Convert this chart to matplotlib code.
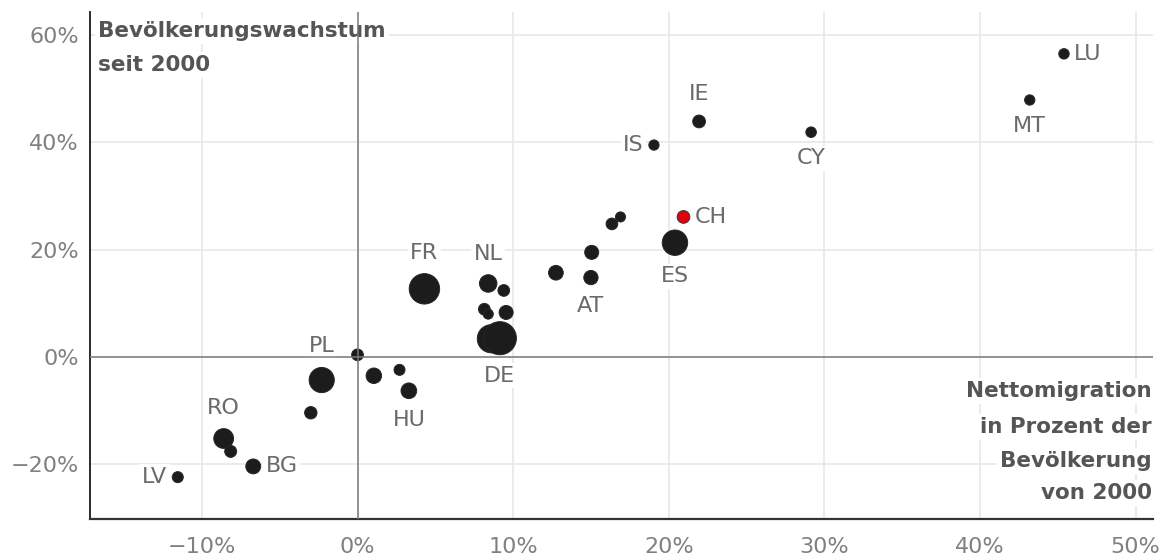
import numpy as np
import matplotlib
matplotlib.use("Agg")
import matplotlib.pyplot as plt
import matplotlib.ticker as mticker

# Nettomigration seit 2000 (x, % der Bevölkerung von 2000) und Bevölkerungswachstum (y, %)
labels = ["LU", "MT", "CY", "IE", "IS", "CH", "ES", "", "", "", "", "AT",
          "NL", "", "", "", "", "", "DE", "FR", "", "PL", "", "",
          "HU", "", "RO", "", "BG", "LV"]
migration = [45.4, 43.2, 29.15, 21.95, 19.05, 20.95, 20.4, 16.35, 16.9, 15.05, 12.75, 15.0,
             8.4, 9.4, 8.15, 8.4, 9.55, 8.6, 9.15, 4.3, 0.0, -2.3, 1.05, 2.7,
             3.3, -3.0, -8.6, -8.15, -6.7, -11.55]
wachstum = [56.5, 47.9, 41.9, 43.9, 39.5, 26.1, 21.3, 24.8, 26.1, 19.5, 15.7, 14.8,
            13.7, 12.4, 8.9, 8.0, 8.3, 3.4, 3.5, 12.7, 0.4, -4.3, -3.5, -2.4,
            -6.3, -10.4, -15.2, -17.6, -20.4, -22.4]
# Bevölkerung in Mio. (Blasengrösse)
bevoelkerung = [0.7, 0.5, 0.9, 5.2, 0.4, 5.0, 45, 3.0, 0.1, 8.0, 9.5, 8.5,
                17, 3.0, 3.0, 0.3, 8.0, 57, 82, 68, 3.0, 44, 11.5, 1.7,
                12, 4.4, 24, 3.5, 10, 1.8]
hervorgehoben = "CH"

x_ticks = [-10, 0, 10, 20, 30, 40, 50]
y_ticks = [-20, 0, 20, 40, 60]

y_title = ["Bevölkerungswachstum", "seit 2000"]
x_title = ["Nettomigration", "in Prozent der", "Bevölkerung", "von 2000"]

# label placement around the dot
placement = {"LU": "right", "MT": "below", "CY": "below", "IE": "above", "IS": "left",
             "CH": "right", "ES": "below", "AT": "below", "NL": "above", "FR": "above",
             "DE": "below", "PL": "above", "HU": "below", "RO": "above", "BG": "right",
             "LV": "left"}

DPI = 100
fig = plt.figure(figsize=(11.66, 5.58), dpi=DPI)
ax = fig.add_axes([90 / 1166, 39 / 558, 1063 / 1166, 507 / 558])

pop = np.array(bevoelkerung)
r_px = np.sqrt(25 + 3.03 * pop)          # radius in pixels
sizes = (2 * r_px * 72 / DPI) ** 2

colors = ["#e3000f" if l == hervorgehoben else "#1c1c1c" for l in labels]
edges = ["#333333" if l == hervorgehoben else "#262626" for l in labels]
ax.scatter(migration, wachstum, s=sizes, c=colors, edgecolors=edges,
           linewidths=0.7, zorder=2)

lab_kw = dict(fontsize=16, color="#6b6b6b", textcoords="offset pixels", zorder=4,
              bbox=dict(boxstyle="square,pad=0.12", fc="white", ec="none"))
for l, xv, yv, r in zip(labels, migration, wachstum, r_px):
    if not l:
        continue
    pos = placement[l]
    if pos == "above":
        ax.annotate(l, (xv, yv), xytext=(0, r + 21), ha="center", va="center", **lab_kw)
    elif pos == "below":
        ax.annotate(l, (xv, yv), xytext=(0, -(r + 21)), ha="center", va="center", **lab_kw)
    elif pos == "right":
        ax.annotate(l, (xv, yv), xytext=(r + 5, 0), ha="left", va="center", **lab_kw)
    else:
        ax.annotate(l, (xv, yv), xytext=(-(r + 5), 0), ha="right", va="center", **lab_kw)

ax.axhline(0, color="#7a7a7a", lw=1.1, zorder=5)
ax.axvline(0, color="#7a7a7a", lw=1.1, zorder=5)

ax.set_xlim(-17.19, 51.12)
ax.set_ylim(-30.2, 64.3)
ax.set_xticks(x_ticks)
ax.set_yticks(y_ticks)
pct = mticker.FuncFormatter(lambda v, p: f"{v:.0f}%".replace("-", "\u2212"))
ax.xaxis.set_major_formatter(pct)
ax.yaxis.set_major_formatter(pct)
ax.tick_params(length=0, labelsize=16, labelcolor="#808080")
ax.tick_params(axis="x", pad=13)
ax.tick_params(axis="y", pad=8)
ax.grid(True, color="#e6e6e6", lw=1.1, zorder=0)
ax.set_axisbelow(True)

for side in ("top", "right"):
    ax.spines[side].set_visible(False)
ax.spines["left"].set_color("#1a1a1a")
ax.spines["left"].set_linewidth(1.3)
ax.spines["bottom"].set_color("#333333")
ax.spines["bottom"].set_linewidth(1.6)

note_kw = dict(transform=ax.transAxes, fontsize=15.5, fontweight="bold", color="#555555",
               va="baseline", zorder=4,
               bbox=dict(boxstyle="square,pad=0.15", fc="white", ec="none"))
# baselines in axes fraction
for line, yb in zip(y_title, [0.9507, 0.8836]):
    ax.text(0.0075, yb, line, ha="left", **note_kw)
for line, yb in zip(x_title, [0.2406, 0.1696, 0.1026, 0.0394]):
    ax.text(0.999, yb, line, ha="right", **note_kw)

fig.savefig("out.png", dpi=DPI)
